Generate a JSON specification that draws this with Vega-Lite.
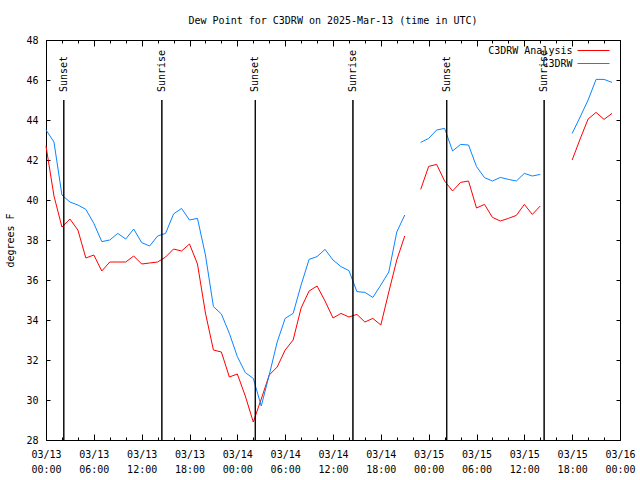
{
  "$schema": "https://vega.github.io/schema/vega-lite/v6.json",
  "width": 574,
  "height": 400,
  "autosize": "none",
  "padding": {"left": 46, "top": 40, "right": 20, "bottom": 40},
  "background": "white",
  "title": {"text": "Dew Point for C3DRW on 2025-Mar-13 (time in UTC)", "font": "DejaVu Sans Mono", "fontSize": 10, "fontWeight": "normal", "color": "black", "offset": 9},
  "config": {
    "font": "DejaVu Sans Mono",
    "view": {"stroke": "black", "strokeWidth": 1},
    "axis": {"domainColor": "black", "tickColor": "black", "labelColor": "black", "titleColor": "black", "labelFont": "DejaVu Sans Mono", "labelFontSize": 10, "titleFont": "DejaVu Sans Mono", "titleFontSize": 10, "titleFontWeight": "normal", "grid": false},
    "legend": {"orient": "top-right", "offset": 5, "title": null, "symbolType": "M-3.2,0H3.2M3.8,0", "symbolSize": 100, "symbolStrokeWidth": 1, "symbolFillColor": "transparent", "labelFont": "DejaVu Sans Mono", "labelFontSize": 10, "labelColor": "black", "labelAlign": "right", "labelOffset": -26.5, "rowPadding": 2, "padding": 0}
  },
  "datasets": {
    "sun": [
      {"t": "2025-03-13T02:14:00Z", "label": "Sunset"},
      {"t": "2025-03-13T14:32:00Z", "label": "Sunrise"},
      {"t": "2025-03-14T02:15:00Z", "label": "Sunset"},
      {"t": "2025-03-14T14:30:00Z", "label": "Sunrise"},
      {"t": "2025-03-15T02:16:00Z", "label": "Sunset"},
      {"t": "2025-03-15T14:29:00Z", "label": "Sunrise"}
    ],
    "dew": [
      {"t": "2025-03-13T00:00:00Z", "s": "C3DRW Analysis", "v": 42.7},
      {"t": "2025-03-13T01:00:00Z", "s": "C3DRW Analysis", "v": 40.2},
      {"t": "2025-03-13T02:00:00Z", "s": "C3DRW Analysis", "v": 38.65},
      {"t": "2025-03-13T03:00:00Z", "s": "C3DRW Analysis", "v": 39.05},
      {"t": "2025-03-13T04:00:00Z", "s": "C3DRW Analysis", "v": 38.5},
      {"t": "2025-03-13T05:00:00Z", "s": "C3DRW Analysis", "v": 37.1},
      {"t": "2025-03-13T06:00:00Z", "s": "C3DRW Analysis", "v": 37.25},
      {"t": "2025-03-13T07:00:00Z", "s": "C3DRW Analysis", "v": 36.45},
      {"t": "2025-03-13T08:00:00Z", "s": "C3DRW Analysis", "v": 36.9},
      {"t": "2025-03-13T09:00:00Z", "s": "C3DRW Analysis", "v": 36.9},
      {"t": "2025-03-13T10:00:00Z", "s": "C3DRW Analysis", "v": 36.9},
      {"t": "2025-03-13T11:00:00Z", "s": "C3DRW Analysis", "v": 37.2},
      {"t": "2025-03-13T12:00:00Z", "s": "C3DRW Analysis", "v": 36.8},
      {"t": "2025-03-13T13:00:00Z", "s": "C3DRW Analysis", "v": 36.85},
      {"t": "2025-03-13T14:00:00Z", "s": "C3DRW Analysis", "v": 36.9},
      {"t": "2025-03-13T15:00:00Z", "s": "C3DRW Analysis", "v": 37.15},
      {"t": "2025-03-13T16:00:00Z", "s": "C3DRW Analysis", "v": 37.55},
      {"t": "2025-03-13T17:00:00Z", "s": "C3DRW Analysis", "v": 37.45},
      {"t": "2025-03-13T18:00:00Z", "s": "C3DRW Analysis", "v": 37.8},
      {"t": "2025-03-13T19:00:00Z", "s": "C3DRW Analysis", "v": 36.8},
      {"t": "2025-03-13T20:00:00Z", "s": "C3DRW Analysis", "v": 34.35},
      {"t": "2025-03-13T21:00:00Z", "s": "C3DRW Analysis", "v": 32.5},
      {"t": "2025-03-13T22:00:00Z", "s": "C3DRW Analysis", "v": 32.4},
      {"t": "2025-03-13T23:00:00Z", "s": "C3DRW Analysis", "v": 31.15},
      {"t": "2025-03-14T00:00:00Z", "s": "C3DRW Analysis", "v": 31.3},
      {"t": "2025-03-14T01:00:00Z", "s": "C3DRW Analysis", "v": 30.2},
      {"t": "2025-03-14T02:00:00Z", "s": "C3DRW Analysis", "v": 28.9},
      {"t": "2025-03-14T03:00:00Z", "s": "C3DRW Analysis", "v": 30.05},
      {"t": "2025-03-14T04:00:00Z", "s": "C3DRW Analysis", "v": 31.25},
      {"t": "2025-03-14T05:00:00Z", "s": "C3DRW Analysis", "v": 31.65},
      {"t": "2025-03-14T06:00:00Z", "s": "C3DRW Analysis", "v": 32.5},
      {"t": "2025-03-14T07:00:00Z", "s": "C3DRW Analysis", "v": 33.0},
      {"t": "2025-03-14T08:00:00Z", "s": "C3DRW Analysis", "v": 34.6},
      {"t": "2025-03-14T09:00:00Z", "s": "C3DRW Analysis", "v": 35.45},
      {"t": "2025-03-14T10:00:00Z", "s": "C3DRW Analysis", "v": 35.7},
      {"t": "2025-03-14T11:00:00Z", "s": "C3DRW Analysis", "v": 34.95},
      {"t": "2025-03-14T12:00:00Z", "s": "C3DRW Analysis", "v": 34.1},
      {"t": "2025-03-14T13:00:00Z", "s": "C3DRW Analysis", "v": 34.33},
      {"t": "2025-03-14T14:00:00Z", "s": "C3DRW Analysis", "v": 34.15},
      {"t": "2025-03-14T15:00:00Z", "s": "C3DRW Analysis", "v": 34.28},
      {"t": "2025-03-14T16:00:00Z", "s": "C3DRW Analysis", "v": 33.9},
      {"t": "2025-03-14T17:00:00Z", "s": "C3DRW Analysis", "v": 34.08},
      {"t": "2025-03-14T18:00:00Z", "s": "C3DRW Analysis", "v": 33.75},
      {"t": "2025-03-14T19:00:00Z", "s": "C3DRW Analysis", "v": 35.4},
      {"t": "2025-03-14T20:00:00Z", "s": "C3DRW Analysis", "v": 37.0},
      {"t": "2025-03-14T21:00:00Z", "s": "C3DRW Analysis", "v": 38.2},
      {"t": "2025-03-14T22:00:00Z", "s": "C3DRW Analysis", "v": null},
      {"t": "2025-03-14T23:00:00Z", "s": "C3DRW Analysis", "v": 40.53},
      {"t": "2025-03-15T00:00:00Z", "s": "C3DRW Analysis", "v": 41.68},
      {"t": "2025-03-15T01:00:00Z", "s": "C3DRW Analysis", "v": 41.78},
      {"t": "2025-03-15T02:00:00Z", "s": "C3DRW Analysis", "v": 40.95},
      {"t": "2025-03-15T03:00:00Z", "s": "C3DRW Analysis", "v": 40.45},
      {"t": "2025-03-15T04:00:00Z", "s": "C3DRW Analysis", "v": 40.88},
      {"t": "2025-03-15T05:00:00Z", "s": "C3DRW Analysis", "v": 40.95},
      {"t": "2025-03-15T06:00:00Z", "s": "C3DRW Analysis", "v": 39.6},
      {"t": "2025-03-15T07:00:00Z", "s": "C3DRW Analysis", "v": 39.78},
      {"t": "2025-03-15T08:00:00Z", "s": "C3DRW Analysis", "v": 39.13},
      {"t": "2025-03-15T09:00:00Z", "s": "C3DRW Analysis", "v": 38.95},
      {"t": "2025-03-15T10:00:00Z", "s": "C3DRW Analysis", "v": 39.08},
      {"t": "2025-03-15T11:00:00Z", "s": "C3DRW Analysis", "v": 39.23},
      {"t": "2025-03-15T12:00:00Z", "s": "C3DRW Analysis", "v": 39.78},
      {"t": "2025-03-15T13:00:00Z", "s": "C3DRW Analysis", "v": 39.28},
      {"t": "2025-03-15T14:00:00Z", "s": "C3DRW Analysis", "v": 39.7},
      {"t": "2025-03-15T15:00:00Z", "s": "C3DRW Analysis", "v": null},
      {"t": "2025-03-15T18:00:00Z", "s": "C3DRW Analysis", "v": 42.0},
      {"t": "2025-03-15T19:00:00Z", "s": "C3DRW Analysis", "v": 43.05},
      {"t": "2025-03-15T20:00:00Z", "s": "C3DRW Analysis", "v": 44.05},
      {"t": "2025-03-15T21:00:00Z", "s": "C3DRW Analysis", "v": 44.38},
      {"t": "2025-03-15T22:00:00Z", "s": "C3DRW Analysis", "v": 44.03},
      {"t": "2025-03-15T23:00:00Z", "s": "C3DRW Analysis", "v": 44.33},
      {"t": "2025-03-13T00:00:00Z", "s": "C3DRW", "v": 43.5},
      {"t": "2025-03-13T01:00:00Z", "s": "C3DRW", "v": 42.9},
      {"t": "2025-03-13T02:00:00Z", "s": "C3DRW", "v": 40.25},
      {"t": "2025-03-13T03:00:00Z", "s": "C3DRW", "v": 39.9},
      {"t": "2025-03-13T04:00:00Z", "s": "C3DRW", "v": 39.75},
      {"t": "2025-03-13T05:00:00Z", "s": "C3DRW", "v": 39.53},
      {"t": "2025-03-13T06:00:00Z", "s": "C3DRW", "v": 38.83},
      {"t": "2025-03-13T07:00:00Z", "s": "C3DRW", "v": 37.92},
      {"t": "2025-03-13T08:00:00Z", "s": "C3DRW", "v": 38.0},
      {"t": "2025-03-13T09:00:00Z", "s": "C3DRW", "v": 38.33},
      {"t": "2025-03-13T10:00:00Z", "s": "C3DRW", "v": 38.05},
      {"t": "2025-03-13T11:00:00Z", "s": "C3DRW", "v": 38.55},
      {"t": "2025-03-13T12:00:00Z", "s": "C3DRW", "v": 37.87},
      {"t": "2025-03-13T13:00:00Z", "s": "C3DRW", "v": 37.7},
      {"t": "2025-03-13T14:00:00Z", "s": "C3DRW", "v": 38.2},
      {"t": "2025-03-13T15:00:00Z", "s": "C3DRW", "v": 38.33},
      {"t": "2025-03-13T16:00:00Z", "s": "C3DRW", "v": 39.3},
      {"t": "2025-03-13T17:00:00Z", "s": "C3DRW", "v": 39.58},
      {"t": "2025-03-13T18:00:00Z", "s": "C3DRW", "v": 39.0},
      {"t": "2025-03-13T19:00:00Z", "s": "C3DRW", "v": 39.08},
      {"t": "2025-03-13T20:00:00Z", "s": "C3DRW", "v": 37.25},
      {"t": "2025-03-13T21:00:00Z", "s": "C3DRW", "v": 34.67},
      {"t": "2025-03-13T22:00:00Z", "s": "C3DRW", "v": 34.3},
      {"t": "2025-03-13T23:00:00Z", "s": "C3DRW", "v": 33.33},
      {"t": "2025-03-14T00:00:00Z", "s": "C3DRW", "v": 32.17},
      {"t": "2025-03-14T01:00:00Z", "s": "C3DRW", "v": 31.37},
      {"t": "2025-03-14T02:00:00Z", "s": "C3DRW", "v": 31.08},
      {"t": "2025-03-14T03:00:00Z", "s": "C3DRW", "v": 29.7},
      {"t": "2025-03-14T04:00:00Z", "s": "C3DRW", "v": 31.25},
      {"t": "2025-03-14T05:00:00Z", "s": "C3DRW", "v": 32.9},
      {"t": "2025-03-14T06:00:00Z", "s": "C3DRW", "v": 34.08},
      {"t": "2025-03-14T07:00:00Z", "s": "C3DRW", "v": 34.33},
      {"t": "2025-03-14T08:00:00Z", "s": "C3DRW", "v": 35.75},
      {"t": "2025-03-14T09:00:00Z", "s": "C3DRW", "v": 37.03},
      {"t": "2025-03-14T10:00:00Z", "s": "C3DRW", "v": 37.17},
      {"t": "2025-03-14T11:00:00Z", "s": "C3DRW", "v": 37.53},
      {"t": "2025-03-14T12:00:00Z", "s": "C3DRW", "v": 37.0},
      {"t": "2025-03-14T13:00:00Z", "s": "C3DRW", "v": 36.67},
      {"t": "2025-03-14T14:00:00Z", "s": "C3DRW", "v": 36.47},
      {"t": "2025-03-14T15:00:00Z", "s": "C3DRW", "v": 35.42},
      {"t": "2025-03-14T16:00:00Z", "s": "C3DRW", "v": 35.38},
      {"t": "2025-03-14T17:00:00Z", "s": "C3DRW", "v": 35.13},
      {"t": "2025-03-14T18:00:00Z", "s": "C3DRW", "v": 35.75},
      {"t": "2025-03-14T19:00:00Z", "s": "C3DRW", "v": 36.4},
      {"t": "2025-03-14T20:00:00Z", "s": "C3DRW", "v": 38.4},
      {"t": "2025-03-14T21:00:00Z", "s": "C3DRW", "v": 39.25},
      {"t": "2025-03-14T22:00:00Z", "s": "C3DRW", "v": null},
      {"t": "2025-03-14T23:00:00Z", "s": "C3DRW", "v": 42.88},
      {"t": "2025-03-15T00:00:00Z", "s": "C3DRW", "v": 43.08},
      {"t": "2025-03-15T01:00:00Z", "s": "C3DRW", "v": 43.5},
      {"t": "2025-03-15T02:00:00Z", "s": "C3DRW", "v": 43.58},
      {"t": "2025-03-15T03:00:00Z", "s": "C3DRW", "v": 42.45},
      {"t": "2025-03-15T04:00:00Z", "s": "C3DRW", "v": 42.78},
      {"t": "2025-03-15T05:00:00Z", "s": "C3DRW", "v": 42.75},
      {"t": "2025-03-15T06:00:00Z", "s": "C3DRW", "v": 41.67},
      {"t": "2025-03-15T07:00:00Z", "s": "C3DRW", "v": 41.12},
      {"t": "2025-03-15T08:00:00Z", "s": "C3DRW", "v": 40.95},
      {"t": "2025-03-15T09:00:00Z", "s": "C3DRW", "v": 41.13},
      {"t": "2025-03-15T10:00:00Z", "s": "C3DRW", "v": 41.03},
      {"t": "2025-03-15T11:00:00Z", "s": "C3DRW", "v": 40.95},
      {"t": "2025-03-15T12:00:00Z", "s": "C3DRW", "v": 41.33},
      {"t": "2025-03-15T13:00:00Z", "s": "C3DRW", "v": 41.2},
      {"t": "2025-03-15T14:00:00Z", "s": "C3DRW", "v": 41.28},
      {"t": "2025-03-15T15:00:00Z", "s": "C3DRW", "v": null},
      {"t": "2025-03-15T18:00:00Z", "s": "C3DRW", "v": 43.33},
      {"t": "2025-03-15T19:00:00Z", "s": "C3DRW", "v": 44.15},
      {"t": "2025-03-15T20:00:00Z", "s": "C3DRW", "v": 45.0},
      {"t": "2025-03-15T21:00:00Z", "s": "C3DRW", "v": 46.03},
      {"t": "2025-03-15T22:00:00Z", "s": "C3DRW", "v": 46.03},
      {"t": "2025-03-15T23:00:00Z", "s": "C3DRW", "v": 45.88}
    ]
  },
  "resolve": {"axis": {"x": "independent", "y": "independent"}},
  "layer": [
    {
      "data": {"name": "dew"},
      "mark": {"type": "line", "strokeWidth": 1},
      "encoding": {
        "x": {"field": "t", "type": "temporal",
          "scale": {"type": "utc", "domain": [{"year": 2025, "month": "mar", "date": 13, "utc": true}, {"year": 2025, "month": "mar", "date": 16, "utc": true}]},
          "axis": {"orient": "bottom", "title": null, "tickSize": -6, "labelPadding": 15, "labelLineHeight": 15, "labelFlush": false, "labelOverlap": false,
            "values": [
              {"year": 2025, "month": "mar", "date": 13, "hours": 0, "utc": true},
              {"year": 2025, "month": "mar", "date": 13, "hours": 6, "utc": true},
              {"year": 2025, "month": "mar", "date": 13, "hours": 12, "utc": true},
              {"year": 2025, "month": "mar", "date": 13, "hours": 18, "utc": true},
              {"year": 2025, "month": "mar", "date": 14, "hours": 0, "utc": true},
              {"year": 2025, "month": "mar", "date": 14, "hours": 6, "utc": true},
              {"year": 2025, "month": "mar", "date": 14, "hours": 12, "utc": true},
              {"year": 2025, "month": "mar", "date": 14, "hours": 18, "utc": true},
              {"year": 2025, "month": "mar", "date": 15, "hours": 0, "utc": true},
              {"year": 2025, "month": "mar", "date": 15, "hours": 6, "utc": true},
              {"year": 2025, "month": "mar", "date": 15, "hours": 12, "utc": true},
              {"year": 2025, "month": "mar", "date": 15, "hours": 18, "utc": true},
              {"year": 2025, "month": "mar", "date": 16, "hours": 0, "utc": true}
            ],
            "labelExpr": "[utcFormat(datum.value, '%m/%d'), utcFormat(datum.value, '%H:%M')]"}},
        "y": {"field": "v", "type": "quantitative",
          "scale": {"domain": [28, 48], "nice": false, "zero": false},
          "axis": {"orient": "left", "title": "degrees F", "values": [28, 30, 32, 34, 36, 38, 40, 42, 44, 46, 48], "tickSize": -4, "labelPadding": 12, "titlePadding": 10}},
        "color": {"field": "s", "type": "nominal",
          "scale": {"domain": ["C3DRW Analysis", "C3DRW"], "range": ["#ff0000", "#0a85ff"]},
          "legend": {"encode": {"symbols": {"update": {"stroke": {"scale": "color", "field": "value"}, "strokeWidth": {"value": 1}}}}}}
      }
    },
    {
      "data": {"name": "sun"},
      "mark": {"type": "rule", "color": "black", "strokeWidth": 1},
      "encoding": {
        "x": {"field": "t", "type": "temporal",
          "scale": {"type": "utc", "domain": [{"year": 2025, "month": "mar", "date": 13, "utc": true}, {"year": 2025, "month": "mar", "date": 16, "utc": true}]},
          "axis": {"orient": "top", "title": null, "labels": false, "tickSize": -6,
            "values": [
              {"year": 2025, "month": "mar", "date": 13, "hours": 0, "utc": true},
              {"year": 2025, "month": "mar", "date": 13, "hours": 6, "utc": true},
              {"year": 2025, "month": "mar", "date": 13, "hours": 12, "utc": true},
              {"year": 2025, "month": "mar", "date": 13, "hours": 18, "utc": true},
              {"year": 2025, "month": "mar", "date": 14, "hours": 0, "utc": true},
              {"year": 2025, "month": "mar", "date": 14, "hours": 6, "utc": true},
              {"year": 2025, "month": "mar", "date": 14, "hours": 12, "utc": true},
              {"year": 2025, "month": "mar", "date": 14, "hours": 18, "utc": true},
              {"year": 2025, "month": "mar", "date": 15, "hours": 0, "utc": true},
              {"year": 2025, "month": "mar", "date": 15, "hours": 6, "utc": true},
              {"year": 2025, "month": "mar", "date": 15, "hours": 12, "utc": true},
              {"year": 2025, "month": "mar", "date": 15, "hours": 18, "utc": true},
              {"year": 2025, "month": "mar", "date": 16, "hours": 0, "utc": true}
            ]}},
        "y": {"datum": 28, "type": "quantitative",
          "scale": {"domain": [28, 48], "nice": false, "zero": false},
          "axis": {"orient": "right", "title": null, "labels": false, "values": [28, 30, 32, 34, 36, 38, 40, 42, 44, 46, 48], "tickSize": -4}},
        "y2": {"datum": 45}
      }
    },
    {
      "data": {"name": "sun"},
      "mark": {"type": "text", "angle": 270, "align": "left", "baseline": "middle", "fontSize": 10, "font": "DejaVu Sans Mono", "color": "black"},
      "encoding": {
        "x": {"field": "t", "type": "temporal",
          "scale": {"type": "utc", "domain": [{"year": 2025, "month": "mar", "date": 13, "utc": true}, {"year": 2025, "month": "mar", "date": 16, "utc": true}]},
          "axis": {"orient": "bottom", "title": null, "labels": false, "domain": false, "tickSize": -3,
            "values": [
              {"year": 2025, "month": "mar", "date": 13, "hours": 2, "utc": true},
              {"year": 2025, "month": "mar", "date": 13, "hours": 4, "utc": true},
              {"year": 2025, "month": "mar", "date": 13, "hours": 8, "utc": true},
              {"year": 2025, "month": "mar", "date": 13, "hours": 10, "utc": true},
              {"year": 2025, "month": "mar", "date": 13, "hours": 14, "utc": true},
              {"year": 2025, "month": "mar", "date": 13, "hours": 16, "utc": true},
              {"year": 2025, "month": "mar", "date": 13, "hours": 20, "utc": true},
              {"year": 2025, "month": "mar", "date": 13, "hours": 22, "utc": true},
              {"year": 2025, "month": "mar", "date": 14, "hours": 2, "utc": true},
              {"year": 2025, "month": "mar", "date": 14, "hours": 4, "utc": true},
              {"year": 2025, "month": "mar", "date": 14, "hours": 8, "utc": true},
              {"year": 2025, "month": "mar", "date": 14, "hours": 10, "utc": true},
              {"year": 2025, "month": "mar", "date": 14, "hours": 14, "utc": true},
              {"year": 2025, "month": "mar", "date": 14, "hours": 16, "utc": true},
              {"year": 2025, "month": "mar", "date": 14, "hours": 20, "utc": true},
              {"year": 2025, "month": "mar", "date": 14, "hours": 22, "utc": true},
              {"year": 2025, "month": "mar", "date": 15, "hours": 2, "utc": true},
              {"year": 2025, "month": "mar", "date": 15, "hours": 4, "utc": true},
              {"year": 2025, "month": "mar", "date": 15, "hours": 8, "utc": true},
              {"year": 2025, "month": "mar", "date": 15, "hours": 10, "utc": true},
              {"year": 2025, "month": "mar", "date": 15, "hours": 14, "utc": true},
              {"year": 2025, "month": "mar", "date": 15, "hours": 16, "utc": true},
              {"year": 2025, "month": "mar", "date": 15, "hours": 20, "utc": true},
              {"year": 2025, "month": "mar", "date": 15, "hours": 22, "utc": true}
            ]}},
        "y": {"datum": 45.4, "type": "quantitative",
          "scale": {"domain": [28, 48], "nice": false, "zero": false}, "axis": null},
        "text": {"field": "label"}
      }
    },
    {
      "data": {"name": "sun"},
      "mark": {"type": "rule", "color": "black", "strokeWidth": 1},
      "encoding": {
        "x": {"field": "t", "type": "temporal",
          "scale": {"type": "utc", "domain": [{"year": 2025, "month": "mar", "date": 13, "utc": true}, {"year": 2025, "month": "mar", "date": 16, "utc": true}]},
          "axis": {"orient": "top", "title": null, "labels": false, "domain": false, "tickSize": -3,
            "values": [
              {"year": 2025, "month": "mar", "date": 13, "hours": 2, "utc": true},
              {"year": 2025, "month": "mar", "date": 13, "hours": 4, "utc": true},
              {"year": 2025, "month": "mar", "date": 13, "hours": 8, "utc": true},
              {"year": 2025, "month": "mar", "date": 13, "hours": 10, "utc": true},
              {"year": 2025, "month": "mar", "date": 13, "hours": 14, "utc": true},
              {"year": 2025, "month": "mar", "date": 13, "hours": 16, "utc": true},
              {"year": 2025, "month": "mar", "date": 13, "hours": 20, "utc": true},
              {"year": 2025, "month": "mar", "date": 13, "hours": 22, "utc": true},
              {"year": 2025, "month": "mar", "date": 14, "hours": 2, "utc": true},
              {"year": 2025, "month": "mar", "date": 14, "hours": 4, "utc": true},
              {"year": 2025, "month": "mar", "date": 14, "hours": 8, "utc": true},
              {"year": 2025, "month": "mar", "date": 14, "hours": 10, "utc": true},
              {"year": 2025, "month": "mar", "date": 14, "hours": 14, "utc": true},
              {"year": 2025, "month": "mar", "date": 14, "hours": 16, "utc": true},
              {"year": 2025, "month": "mar", "date": 14, "hours": 20, "utc": true},
              {"year": 2025, "month": "mar", "date": 14, "hours": 22, "utc": true},
              {"year": 2025, "month": "mar", "date": 15, "hours": 2, "utc": true},
              {"year": 2025, "month": "mar", "date": 15, "hours": 4, "utc": true},
              {"year": 2025, "month": "mar", "date": 15, "hours": 8, "utc": true},
              {"year": 2025, "month": "mar", "date": 15, "hours": 10, "utc": true},
              {"year": 2025, "month": "mar", "date": 15, "hours": 14, "utc": true},
              {"year": 2025, "month": "mar", "date": 15, "hours": 16, "utc": true},
              {"year": 2025, "month": "mar", "date": 15, "hours": 20, "utc": true},
              {"year": 2025, "month": "mar", "date": 15, "hours": 22, "utc": true}
            ]}},
        "y": {"datum": 28, "type": "quantitative",
          "scale": {"domain": [28, 48], "nice": false, "zero": false}, "axis": null},
        "y2": {"datum": 45}
      }
    }
  ]
}
